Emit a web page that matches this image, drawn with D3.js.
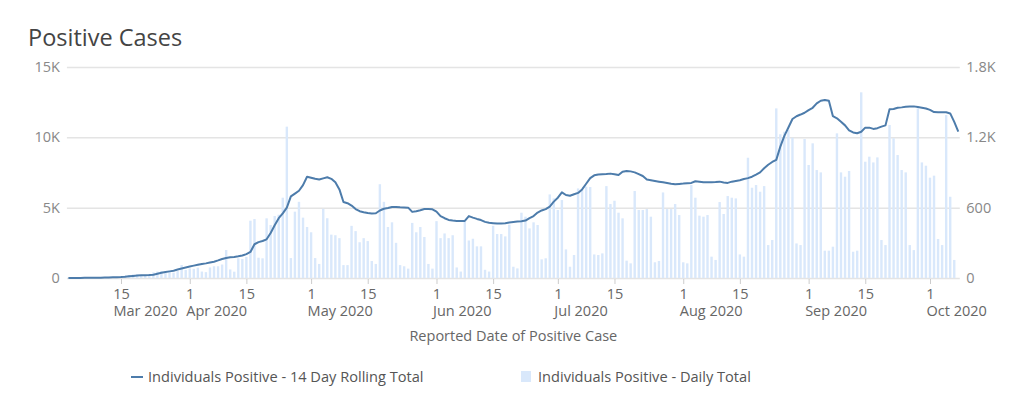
<!DOCTYPE html>
<html><head><meta charset="utf-8">
<script src="https://cdn.jsdelivr.net/npm/d3@7"></script>
<style>
html,body{margin:0;padding:0;background:#fff;}
svg{display:block;font-family:"Open Sans",sans-serif;}
</style></head>
<body><svg id="chart" width="1023" height="400"></svg>
<script>
// ---- data ----
const startDate = "2020-03-02";           // first category (one bar per day)
const dailyTotal = [
 0,0,0,2,3,3,5,5,5,8,10,10,10,
 15,20,25,30,30,20,20,35,48,55,60,55,50,45,60,111,68,82,78,88,55,50,90,100,100,115,239,73,54,168,162,180,
 489,503,173,168,509,452,529,540,685,1291,170,566,650,515,435,390,170,120,590,510,370,365,340,110,110,
 445,400,305,340,315,145,120,800,650,435,475,300,110,100,80,470,390,435,350,120,80,485,340,380,340,365,
 90,55,480,320,335,270,270,70,55,445,375,375,355,455,96,82,557,523,423,475,452,159,168,713,679,580,665,
 244,96,196,764,750,779,776,201,196,210,784,631,659,557,509,148,125,742,580,580,588,523,134,145,730,588,
 588,631,537,134,125,793,685,532,523,537,182,154,648,546,699,685,679,201,182,1026,770,793,736,784,281,324,
 1447,1226,1248,1263,1197,295,281,1186,964,1149,921,901,233,233,267,1234,901,864,913,224,233,1584,992,
 1035,986,1029,324,281,1305,1192,1049,921,901,281,238,1447,986,958,856,873,333,281,1390,693,154,0
];
const rollingTotal = [
 0,0,0,5,10,10,15,20,25,30,40,50,60,
 70,90,120,150,170,190,200,210,230,300,370,420,470,520,600,680,750,820,880,940,1000,1040,1100,1160,1250,1350,1420,1470,1500,1540,1600,1700,
 1850,2400,2550,2630,2750,3200,3750,4250,4600,5000,5800,6000,6200,6600,7200,7130,7050,7000,7080,7160,7050,6800,6300,5400,5320,
 5150,4900,4750,4680,4620,4590,4600,4800,4920,4980,5050,5050,5030,5020,5000,4700,4750,4820,4900,4900,4880,4720,4400,4250,4130,4080,
 4060,4060,4060,4400,4290,4200,4120,3990,3930,3900,3870,3880,3900,3950,3980,4010,4040,4080,4250,4400,4650,4800,4900,5080,5430,5710,6090,
 5900,5850,5950,6050,6300,6700,7100,7300,7360,7380,7390,7420,7380,7320,7560,7600,7580,7510,7380,7250,7000,6950,6900,6850,6800,6750,
 6700,6660,6690,6710,6740,6760,6880,6850,6800,6800,6800,6820,6850,6790,6760,6850,6900,6950,7040,7100,7200,7350,7510,7800,8050,8250,
 8400,9340,10100,10700,11300,11500,11620,11750,11940,12100,12410,12600,12660,12600,11500,11350,11100,10850,10500,10350,10290,10400,10690,
 10690,10600,10650,10760,10850,11990,12010,12100,12130,12180,12200,12200,12150,12100,12050,11950,11800,11780,11780,11780,11700,11100,10400
];
const leftTicks = [0, 5000, 10000, 15000];
const leftTickLabels = ["0", "5K", "10K", "15K"];
const rightTicks = [0, 600, 1200, 1800];
const rightTickLabels = ["0", "600", "1.2K", "1.8K"];
const xTickDates = ["2020-03-15","2020-04-01","2020-04-15","2020-05-01","2020-05-15","2020-06-01","2020-06-15",
  "2020-07-01","2020-07-15","2020-08-01","2020-08-15","2020-09-01","2020-09-15","2020-10-01"];
const xTickDayLabels = ["15","1","15","1","15","1","15","1","15","1","15","1","15","1"];
const xTickMonthLabels = ["Mar 2020","Apr 2020","","May 2020","","Jun 2020","","Jul 2020","","Aug 2020","","Sep 2020","","Oct 2020"];
const titleText = "Positive Cases";
const xAxisTitle = "Reported Date of Positive Case";
const legendLabels = ["Individuals Positive - 14 Day Rolling Total", "Individuals Positive - Daily Total"];

// ---- chart ----
(function () {
const parse = d3.utcParse("%Y-%m-%d");
const t0 = parse(startDate);
const dates = rollingTotal.map((_, i) => d3.utcDay.offset(t0, i));

const svg = d3.select("#chart");
const pL = 68.4, pR = 958.3, pT = 67, pB = 278;
const lineColor = "#4d7cab", barColor = "#d9e8fb", gridColor = "#e4e4e4";

const x = d3.scaleUtc().domain([dates[0], dates[dates.length - 1]]).range([pL, pR]);
const yL = d3.scaleLinear().domain([0, 15000]).range([pB, pT]);
const yR = d3.scaleLinear().domain([0, 1800]).range([pB, pT]);

// title
svg.append("text").attr("x", 28).attr("y", 46).attr("font-size", 23.5).attr("fill", "#444").text(titleText);

// left axis + grid
const gL = svg.append("g").attr("transform", `translate(${pL - 1.5},0)`)
  .call(d3.axisLeft(yL).tickValues(leftTicks).tickFormat((d, i) => leftTickLabels[i]).tickSize(-(pR - pL + 3)).tickPadding(7));
gL.select(".domain").remove();
gL.selectAll(".tick line").attr("stroke", gridColor).attr("stroke-width", 1.5);
gL.selectAll(".tick text").attr("fill", "#888").attr("font-size", 14.5).attr("font-family", "Open Sans");

// right axis labels
const gR = svg.append("g").attr("transform", `translate(${pR},0)`)
  .call(d3.axisRight(yR).tickValues(rightTicks).tickFormat((d, i) => rightTickLabels[i]).tickSize(0).tickPadding(8));
gR.select(".domain").remove();
gR.selectAll(".tick text").attr("fill", "#888").attr("font-size", 14.5).attr("font-family", "Open Sans");

// bars
const barW = 2.4;
svg.append("g").selectAll("rect").data(dailyTotal).join("rect")
  .attr("x", (d, i) => x(dates[i]) - barW / 2)
  .attr("y", d => yR(d))
  .attr("width", barW)
  .attr("height", d => pB - yR(d))
  .attr("fill", barColor);

// line
svg.append("path").datum(rollingTotal)
  .attr("fill", "none").attr("stroke", lineColor).attr("stroke-width", 2).attr("stroke-linejoin", "round")
  .attr("d", d3.line().x((d, i) => x(dates[i])).y(d => yL(d)));

// x axis
const tickDates = xTickDates.map(parse);
const gX = svg.append("g").attr("transform", `translate(0,${pB + 1})`)
  .call(d3.axisBottom(x).tickValues(tickDates).tickSize(5).tickFormat(""));
gX.select(".domain").remove();
gX.selectAll(".tick line").attr("stroke", "#ccc");
const ticks = gX.selectAll(".tick");
ticks.append("text").attr("y", 20).attr("text-anchor", "middle").attr("fill", "#666")
  .attr("font-size", 14.5).attr("font-family", "Open Sans").text((d, i) => xTickDayLabels[i]);
ticks.append("text").attr("x", (d, i) => i === 0 ? -8 : -4).attr("y", 37).attr("text-anchor", "start").attr("fill", "#666")
  .attr("font-size", 14.5).attr("font-family", "Open Sans").text((d, i) => xTickMonthLabels[i]);

svg.append("text").attr("x", (pL + pR) / 2).attr("y", 341).attr("text-anchor", "middle")
  .attr("fill", "#666").attr("font-size", 14.5).text(xAxisTitle);

// legend
const lg = svg.append("g");
lg.append("line").attr("x1", 131).attr("x2", 143).attr("y1", 377).attr("y2", 377)
  .attr("stroke", lineColor).attr("stroke-width", 2);
lg.append("text").attr("x", 148).attr("y", 382).attr("fill", "#555").attr("font-size", 14.6).text(legendLabels[0]);
lg.append("rect").attr("x", 521).attr("y", 371).attr("width", 10).attr("height", 11).attr("fill", barColor);
lg.append("text").attr("x", 538).attr("y", 382).attr("fill", "#555").attr("font-size", 14.6).text(legendLabels[1]);
})();
</script></body></html>
